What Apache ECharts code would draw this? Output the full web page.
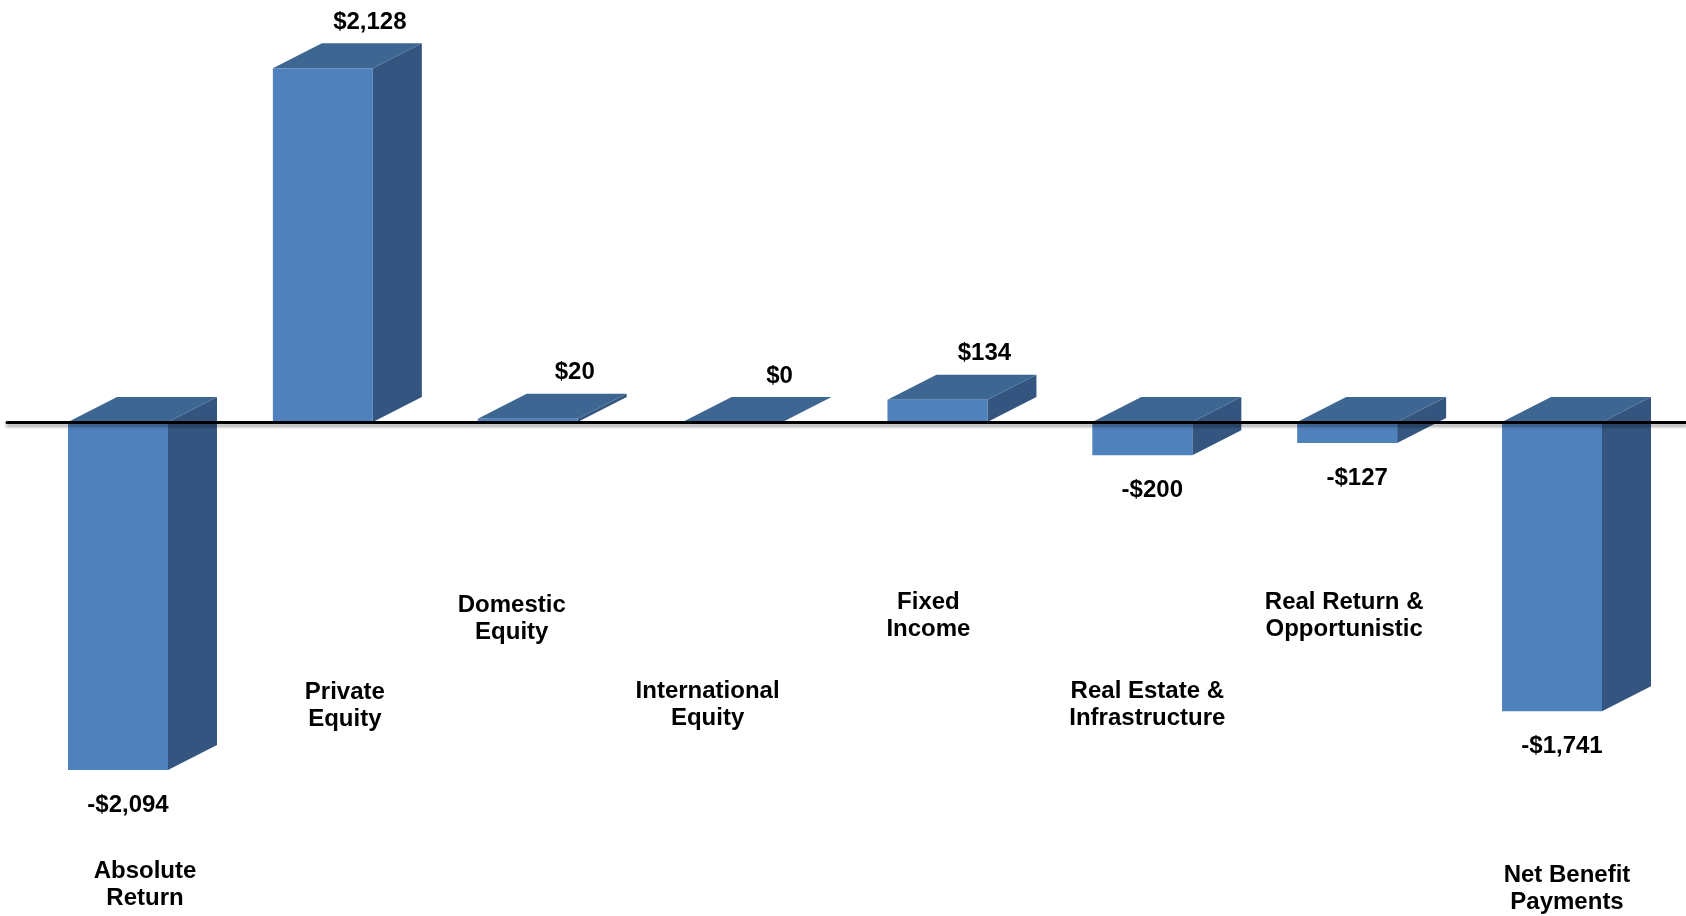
<!DOCTYPE html>
<html>
<head>
<meta charset="utf-8">
<script src="https://cdn.jsdelivr.net/npm/echarts@6/dist/echarts.min.js"></script>
<style>
  html, body { margin: 0; padding: 0; background: #ffffff; }
  #chart { width: 1686px; height: 916px; }
</style>
</head>
<body>
<div id="chart"></div>
<script>
// ---- data ----
const categories = [
  'Absolute\nReturn',
  'Private\nEquity',
  'Domestic\nEquity',
  'International\nEquity',
  'Fixed\nIncome',
  'Real Estate &\nInfrastructure',
  'Real Return &\nOpportunistic',
  'Net Benefit\nPayments'
];
const values = [-2094, 2128, 20, 0, 134, -200, -127, -1741];

// ---- layout / style (not data) ----
// category label placement relative to the bar's base point: [dx, dy] in px
const catLabelOffset = [
  [27, 463], [22, 284], [-16, 197], [-25, 283],
  [-9, 194], [5, 283], [-3, 194], [15, 467]
];
const DEPTH_X = 49, DEPTH_Y = 25;
const BAR_RATIO = 0.488;
const COL_FRONT = '#4f81bd';
const COL_TOP = '#3e6692';
const COL_SIDE = '#33557f';
const FONT = '"Liberation Sans", Arial, Helvetica, sans-serif';
const FONT_SIZE = 24;

function fmt(v) {
  const a = Math.abs(v).toLocaleString('en-US');
  return (v < 0 ? '-$' : '$') + a;
}

const chart = echarts.init(document.getElementById('chart'), null, { renderer: 'canvas' });

function renderItem(params, api) {
  const i = api.value(0);
  const v = api.value(1);
  const base = api.coord([i, 0]);
  const end = api.coord([i, v]);
  const band = api.size([1, 0])[0];
  const w = band * BAR_RATIO;
  const cx = base[0];
  const x0 = cx - w / 2, x1 = cx + w / 2;
  const yTop = Math.min(base[1], end[1]);
  const yBot = Math.max(base[1], end[1]);
  const dx = DEPTH_X, dy = DEPTH_Y;
  const children = [];
  // side face
  children.push({
    type: 'polygon',
    shape: { points: [[x1, yTop], [x1 + dx, yTop - dy], [x1 + dx, yBot - dy], [x1, yBot]] },
    style: { fill: COL_SIDE }
  });
  // top face
  children.push({
    type: 'polygon',
    shape: { points: [[x0, yTop], [x1, yTop], [x1 + dx, yTop - dy], [x0 + dx, yTop - dy]] },
    style: { fill: COL_TOP }
  });
  // front face
  children.push({
    type: 'rect',
    shape: { x: x0, y: yTop, width: w, height: yBot - yTop },
    style: { fill: COL_FRONT }
  });
  // value label
  let lx, ly;
  if (v >= 0) { lx = cx + dx - 2; ly = yTop - dy - 21; }
  else { lx = cx + 10; ly = yBot + 35; }
  children.push({
    type: 'text',
    z2: 20,
    style: {
      text: fmt(v), x: lx, y: ly, align: 'center', verticalAlign: 'middle',
      fontFamily: FONT, fontWeight: 'bold', fontSize: FONT_SIZE, fill: '#000'
    }
  });
  // category label
  const off = catLabelOffset[i];
  children.push({
    type: 'text',
    z2: 20,
    style: {
      text: categories[i], x: cx + off[0], y: base[1] + off[1],
      align: 'center', verticalAlign: 'middle', lineHeight: 27,
      fontFamily: FONT, fontWeight: 'bold', fontSize: FONT_SIZE, fill: '#000'
    }
  });
  return { type: 'group', children: children };
}

const option = {
  animation: false,
  backgroundColor: '#ffffff',
  grid: { left: 7, right: 0, top: 6.5, height: 831 },
  xAxis: {
    type: 'value',
    min: -0.5418,
    max: 7.654,
    z: 10,
    axisLine: {
      show: true, onZero: true,
      lineStyle: { color: '#000', width: 3, shadowColor: 'rgba(0,0,0,0.35)', shadowBlur: 3, shadowOffsetY: 3 }
    },
    axisTick: { show: false },
    axisLabel: { show: false },
    splitLine: { show: false }
  },
  yAxis: {
    type: 'value',
    min: -2500,
    max: 2500,
    show: false,
    axisLine: { show: false },
    splitLine: { show: false }
  },
  series: [{
    type: 'custom',
    renderItem: renderItem,
    data: values.map((v, i) => [i, v]),
    encode: { x: 0, y: 1 },
    clip: false
  }]
};
chart.setOption(option);
</script>
</body>
</html>
